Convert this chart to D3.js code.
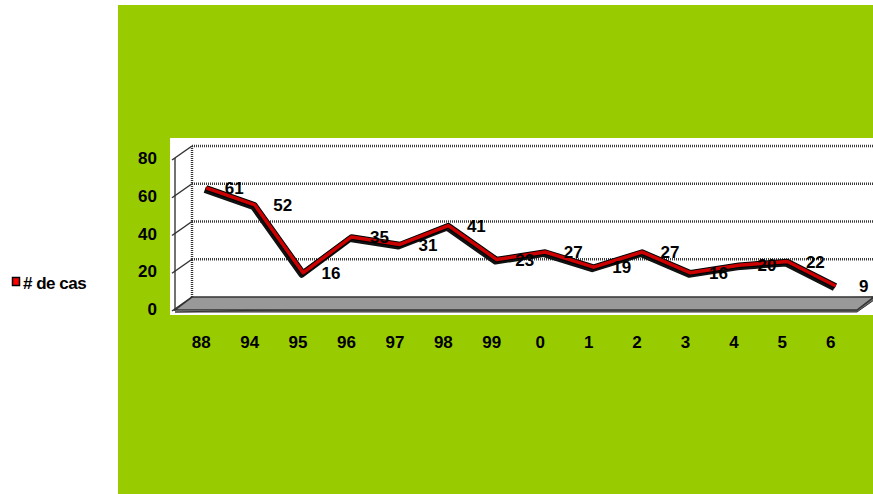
<!DOCTYPE html>
<html>
<head>
<meta charset="utf-8">
<script src="https://cdn.jsdelivr.net/npm/d3@7"></script>
<style>
  html, body { margin: 0; padding: 0; background: #ffffff; }
  svg { display: block; }
  text { font-family: "Liberation Sans", Arial, sans-serif; font-weight: bold; fill: #000; }
</style>
</head>
<body>
<svg id="chart" width="873" height="494"></svg>
<script>
// Annual number of cases
const categories = ["88", "94", "95", "96", "97", "98", "99", "0", "1", "2", "3", "4", "5", "6"];
const cases = [61, 52, 16, 35, 31, 41, 23, 27, 19, 27, 16, 20, 22, 9];
const yTicks = [0, 20, 40, 60, 80];
const seriesName = "# de cas";

const svg = d3.select("#chart");

// depth offsets of the pseudo-3D box
const depth = { dx: 17, dy: -12 };
const mid = { dx: 5, dy: -6 };

const x = d3.scaleBand().domain(categories).range([177, 855]);
const cx = d => x(d) + x.bandwidth() / 2;
const y = d3.scaleLinear().domain([0, 80]).range([309, 158]);

// backgrounds
svg.append("rect").attr("x", 118).attr("y", 5).attr("width", 755).attr("height", 489).attr("fill", "#99cc00");
svg.append("rect").attr("x", 170).attr("y", 138).attr("width", 703).attr("height", 177).attr("fill", "#ffffff");

const x0 = x.range()[0] - 2, x1 = x.range()[1] + 2;
const bx0 = x0 + depth.dx, bx1 = x1 + depth.dx;

// floor slab: front face, then top surface
svg.append("polygon")
  .attr("points", [[x0, y(0) + 3], [x1, y(0) + 3], [bx1, y(0) + depth.dy + 3], [bx1, y(0) + depth.dy]].join(" "))
  .attr("fill", "#777").attr("stroke", "#333").attr("stroke-width", 1);
svg.append("polygon")
  .attr("points", [[x0, y(0) + 1], [bx0, y(0) + depth.dy], [bx1, y(0) + depth.dy], [x1, y(0) + 1]].join(" "))
  .attr("fill", "#999999").attr("stroke", "#333").attr("stroke-width", 1.5);

// back wall gridlines
const grid = svg.append("g");
yTicks.filter(t => t > 0).forEach(t => {
  grid.append("line")
    .attr("x1", bx0).attr("x2", bx1)
    .attr("y1", y(t) + depth.dy).attr("y2", y(t) + depth.dy)
    .attr("stroke", "#3a3a3a").attr("stroke-width", 2.6)
    .attr("stroke-dasharray", "1,1");
});
// back wall edges
grid.append("line").attr("x1", bx0).attr("x2", bx0)
  .attr("y1", y(80) + depth.dy).attr("y2", y(0) + depth.dy)
  .attr("stroke", "#333").attr("stroke-width", 2.4).attr("stroke-dasharray", "1,1");
grid.append("line").attr("x1", bx1).attr("x2", bx1)
  .attr("y1", y(80) + depth.dy).attr("y2", y(0) + depth.dy)
  .attr("stroke", "#444").attr("stroke-width", 2);

// left wall: front edge and depth ticks
grid.append("line").attr("x1", x0).attr("x2", x0)
  .attr("y1", y(80)).attr("y2", y(0) + 2)
  .attr("stroke", "#444").attr("stroke-width", 1.5);
yTicks.forEach(t => {
  grid.append("line")
    .attr("x1", x0 - 3).attr("y1", y(t) + 2)
    .attr("x2", bx0).attr("y2", y(t) + depth.dy)
    .attr("stroke", "#333").attr("stroke-width", 1.5);
});

// y axis labels
svg.append("g").selectAll("text").data(yTicks).join("text")
  .attr("x", 157).attr("y", d => y(d)).attr("dy", "0.36em")
  .attr("text-anchor", "end").attr("font-size", 17)
  .text(d => d);

// category labels
svg.append("g").selectAll("text").data(categories).join("text")
  .attr("x", d => cx(d)).attr("y", 348)
  .attr("text-anchor", "middle").attr("font-size", 17)
  .text(d => d);

// series ribbon
const pts = categories.map((c, i) => [cx(c) + mid.dx, y(cases[i]) + mid.dy]);
const line = d3.line();
svg.append("path").attr("d", line(pts.map(p => [p[0] - 1.5, p[1] + 2])))
  .attr("fill", "none").attr("stroke", "#111").attr("stroke-width", 6)
  .attr("stroke-linejoin", "round");
svg.append("path").attr("d", line(pts))
  .attr("fill", "none").attr("stroke", "#000").attr("stroke-width", 5.5)
  .attr("stroke-linejoin", "round");
svg.append("path").attr("d", line(pts))
  .attr("fill", "none").attr("stroke", "#cc0000").attr("stroke-width", 3.5)
  .attr("stroke-linejoin", "round");

// value labels
svg.append("g").selectAll("text").data(cases).join("text")
  .attr("x", (d, i) => cx(categories[i]) + 33)
  .attr("y", d => y(d) + mid.dy).attr("dy", "0.36em")
  .attr("text-anchor", "middle").attr("font-size", 17)
  .text(d => d);

// legend
const lg = svg.append("g");
lg.append("rect").attr("x", 12.5).attr("y", 277.5).attr("width", 7).attr("height", 8)
  .attr("fill", "#ff0000").attr("stroke", "#000").attr("stroke-width", 1.5);
lg.append("text").attr("x", 23).attr("y", 289).attr("font-size", 17)
  .attr("letter-spacing", "-0.5").text(seriesName);
</script>
</body>
</html>
